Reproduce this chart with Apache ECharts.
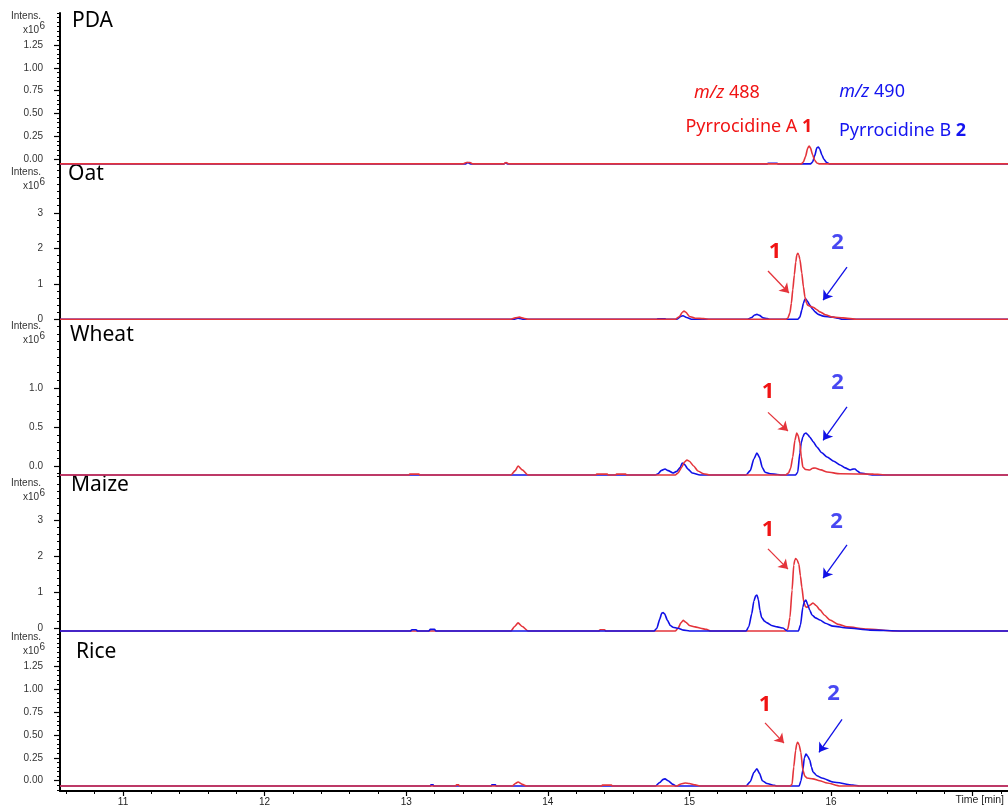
<!DOCTYPE html>
<html>
<head>
<meta charset="utf-8">
<script src="https://cdn.jsdelivr.net/npm/echarts@6/dist/echarts.min.js"></script>
<style>
  html, body { margin: 0; padding: 0; background: #fff; }
  #main { width: 1008px; height: 807px; }
</style>
</head>
<body>
<div id="main"></div>
<script>
// time axis (min)
const timeRange = [10.555, 17.25];
const timeTicks = [11, 12, 13, 14, 15, 16, 17];

// y ranges (x10^6) and tick labels for each panel
const pdaRange = [-0.062, 1.60];
const oatRange = [-0.048, 4.375];
const wheatRange = [-0.142, 1.879];
const maizeRange = [-0.102, 4.219];
const riceRange = [-0.112, 1.632];

const pdaTicks = [0, 0.25, 0.5, 0.75, 1.0, 1.25];
const oatTicks = [0, 1, 2, 3];
const wheatTicks = [0, 0.5, 1.0];
const maizeTicks = [0, 1, 2, 3];
const riceTicks = [0, 0.25, 0.5, 0.75, 1.0, 1.25];

// traces: [time, intensity]
const pdaRed = [[10.555,-0.05],[13.40,-0.05],[13.425,-0.035],[13.45,-0.035],[13.47,-0.05],[13.69,-0.05],[13.705,-0.035],[13.725,-0.05],
  [15.79,-0.05],[15.805,-0.03],[15.82,0.03],[15.835,0.12],[15.845,0.145],[15.855,0.125],[15.87,0.05],[15.885,-0.01],
  [15.90,-0.04],[15.92,-0.05],[17.25,-0.05]];
const pdaBlue = [[10.555,-0.05],[13.42,-0.05],[13.435,-0.035],[13.455,-0.05],[13.69,-0.05],[13.70,-0.04],[13.72,-0.05],
  [15.55,-0.05],[15.555,-0.043],[15.62,-0.043],[15.625,-0.05],[15.855,-0.05],[15.87,-0.03],[15.885,0.04],[15.90,0.125],
  [15.91,0.135],[15.92,0.115],[15.935,0.05],[15.95,0.0],[15.97,-0.035],[15.99,-0.05],[17.25,-0.05]];

const oatRed = [[10.555,0],[13.74,0],[13.77,0.04],[13.80,0.06],[13.83,0.03],[13.86,0],[14.90,0],[14.93,0.08],[14.95,0.2],
  [14.962,0.23],[14.975,0.2],[15.0,0.08],[15.04,0.03],[15.10,0.02],[15.145,0],[15.68,0],[15.695,0.03],[15.71,0.18],
  [15.72,0.45],[15.73,0.83],[15.741,1.25],[15.751,1.61],[15.758,1.80],[15.765,1.86],[15.772,1.82],[15.78,1.70],[15.794,1.30],
  [15.805,0.92],[15.816,0.63],[15.826,0.47],[15.835,0.40],[15.85,0.37],[15.873,0.34],[15.90,0.27],[15.922,0.21],[15.96,0.13],
  [16.014,0.06],[16.085,0.04],[16.184,0],[17.25,0]];
const oatBlue = [[10.555,0],[13.76,0],[13.79,0.03],[13.83,0],[14.77,0],[14.775,0.015],[14.83,0.015],[14.835,0],[14.91,0],
  [14.94,0.08],[14.955,0.1],[14.98,0.05],[15.02,0],[15.41,0],[15.44,0.05],[15.46,0.12],[15.477,0.14],[15.495,0.11],[15.52,0.04],
  [15.55,0.02],[15.569,0],[15.765,0],[15.78,0.06],[15.794,0.26],[15.805,0.45],[15.815,0.56],[15.823,0.57],[15.835,0.50],
  [15.85,0.40],[15.87,0.29],[15.887,0.21],[15.91,0.14],[15.944,0.09],[16.014,0.06],[16.05,0.03],[16.078,0],[17.25,0]];

const wheatRed = [[10.555,-0.116],[13.02,-0.116],[13.025,-0.105],[13.09,-0.105],[13.095,-0.116],[13.74,-0.116],[13.77,-0.06],
  [13.79,0.0],[13.82,-0.05],[13.86,-0.116],[14.34,-0.116],[14.345,-0.105],[14.42,-0.105],[14.425,-0.116],[14.48,-0.116],
  [14.485,-0.105],[14.55,-0.105],[14.555,-0.116],[14.90,-0.116],[14.92,-0.09],[14.945,-0.02],[14.965,0.05],[14.983,0.077],
  [15.0,0.06],[15.03,0.0],[15.06,-0.064],[15.10,-0.10],[15.145,-0.116],[15.68,-0.116],[15.70,-0.09],[15.715,-0.03],
  [15.73,0.116],[15.745,0.33],[15.758,0.425],[15.768,0.39],[15.78,0.296],[15.79,0.12],[15.801,-0.013],[15.82,-0.045],
  [15.85,-0.051],[15.87,-0.03],[15.887,-0.026],[15.93,-0.05],[15.972,-0.077],[16.064,-0.10],[16.30,-0.105],[16.395,-0.116],[17.25,-0.116]];
const wheatBlue = [[10.555,-0.116],[14.76,-0.116],[14.778,-0.10],[14.80,-0.06],[14.828,-0.039],[14.85,-0.06],[14.884,-0.09],
  [14.91,-0.07],[14.935,-0.02],[14.949,0.039],[14.965,0.02],[14.99,-0.04],[15.02,-0.09],[15.075,-0.116],[15.40,-0.116],
  [15.43,-0.06],[15.455,0.09],[15.477,0.167],[15.495,0.11],[15.515,-0.02],[15.534,-0.08],[15.57,-0.10],[15.62,-0.11],
  [15.65,-0.116],[15.75,-0.116],[15.765,-0.08],[15.78,0.167],[15.79,0.30],[15.801,0.373],[15.812,0.415],[15.823,0.425],
  [15.835,0.405],[15.85,0.373],[15.875,0.31],[15.90,0.245],[15.935,0.17],[15.972,0.116],[16.02,0.06],[16.064,0.013],
  [16.10,-0.025],[16.136,-0.051],[16.155,-0.04],[16.169,-0.039],[16.19,-0.07],[16.205,-0.09],[16.297,-0.116],[17.25,-0.116]];

const maizeRed = [[10.555,-0.075],[13.74,-0.075],[13.765,0.05],[13.79,0.15],[13.82,0.05],[13.86,-0.075],[14.36,-0.075],
  [14.37,-0.04],[14.40,-0.04],[14.41,-0.075],[14.90,-0.075],[14.92,0.0],[14.94,0.15],[14.956,0.22],[14.975,0.17],[15.0,0.08],
  [15.04,0.04],[15.08,0.0],[15.12,-0.03],[15.15,-0.075],[15.68,-0.075],[15.695,-0.02],[15.71,0.3],[15.725,1.06],[15.737,1.75],
  [15.745,1.90],[15.751,1.93],[15.76,1.90],[15.773,1.78],[15.784,1.45],[15.794,1.14],[15.808,0.72],[15.82,0.60],[15.83,0.58],
  [15.85,0.64],[15.873,0.70],[15.895,0.63],[15.922,0.51],[15.955,0.36],[15.993,0.23],[16.05,0.11],[16.113,0.04],[16.254,-0.02],
  [16.45,-0.075],[17.25,-0.075]];
const maizeBlue = [[10.555,-0.075],[13.03,-0.075],[13.04,-0.04],[13.07,-0.04],[13.08,-0.075],[13.16,-0.075],[13.17,-0.03],
  [13.20,-0.03],[13.21,-0.075],[14.75,-0.075],[14.77,0.0],[14.79,0.25],[14.805,0.42],[14.814,0.44],[14.825,0.40],[14.845,0.22],
  [14.865,0.08],[14.884,0.03],[14.92,0.0],[14.96,-0.05],[15.0,-0.075],[15.40,-0.075],[15.42,0.05],[15.44,0.4],[15.455,0.75],
  [15.468,0.9],[15.477,0.92],[15.487,0.8],[15.498,0.5],[15.51,0.3],[15.53,0.2],[15.548,0.15],[15.58,0.08],[15.62,0.04],
  [15.661,0.01],[15.69,-0.075],[15.77,-0.075],[15.785,0.1],[15.801,0.59],[15.812,0.74],[15.823,0.78],[15.835,0.66],[15.85,0.50],
  [15.866,0.37],[15.89,0.29],[15.922,0.23],[15.96,0.14],[16.014,0.06],[16.113,0.01],[16.275,-0.05],[16.50,-0.075],[17.25,-0.075]];

const riceRed = [[10.555,-0.058],[13.35,-0.058],[13.355,-0.045],[13.37,-0.045],[13.375,-0.058],[13.75,-0.058],[13.77,-0.03],
  [13.79,-0.014],[13.82,-0.04],[13.85,-0.058],[14.38,-0.058],[14.385,-0.048],[14.45,-0.048],[14.455,-0.058],[14.91,-0.058],
  [14.94,-0.035],[14.97,-0.025],[15.0,-0.03],[15.04,-0.045],[15.08,-0.058],[15.71,-0.058],[15.725,-0.04],[15.737,0.15],
  [15.75,0.33],[15.758,0.40],[15.765,0.42],[15.775,0.39],[15.787,0.31],[15.801,0.117],[15.815,0.05],[15.83,0.03],[15.873,0.02],
  [15.92,0.0],[15.972,-0.025],[16.064,-0.058],[17.25,-0.058]];
const riceBlue = [[10.555,-0.058],[13.17,-0.058],[13.175,-0.045],[13.19,-0.045],[13.195,-0.058],[13.6,-0.058],[13.605,-0.045],
  [13.63,-0.045],[13.635,-0.058],[14.76,-0.058],[14.79,-0.02],[14.814,0.015],[14.828,0.02],[14.85,0.0],[14.884,-0.04],
  [14.905,-0.058],[15.40,-0.058],[15.43,-0.01],[15.455,0.09],[15.477,0.13],[15.495,0.08],[15.515,0.0],[15.548,-0.03],
  [15.60,-0.05],[15.62,-0.058],[15.775,-0.058],[15.788,0.0],[15.801,0.117],[15.812,0.25],[15.823,0.29],[15.835,0.27],
  [15.85,0.226],[15.862,0.15],[15.873,0.095],[15.90,0.055],[15.936,0.03],[16.014,-0.014],[16.155,-0.047],[16.2,-0.058],[17.25,-0.058]];

// arrows [from, to] and number label positions
const oatArrowRed = [[15.555,1.36],[15.703,0.74]];
const oatArrowBlue = [[16.113,1.47],[15.944,0.54]];
const oatNum1 = [15.605,1.90];
const oatNum2 = [16.047,2.15];
const wheatArrowRed = [[15.555,0.69],[15.696,0.45]];
const wheatArrowBlue = [[16.113,0.76],[15.944,0.33]];
const wheatNum1 = [15.555,0.95];
const wheatNum2 = [16.047,1.07];
const maizeArrowRed = [[15.555,2.20],[15.696,1.64]];
const maizeArrowBlue = [[16.113,2.31],[15.944,1.39]];
const maizeNum1 = [15.555,2.72];
const maizeNum2 = [16.04,2.94];
const riceArrowRed = [[15.534,0.63],[15.668,0.41]];
const riceArrowBlue = [[16.078,0.67],[15.915,0.31]];
const riceNum1 = [15.534,0.83];
const riceNum2 = [16.018,0.95];

// PDA panel legend texts
const mz488Pos = [15.265,0.725];
const pyrAPos = [15.42,0.35];
const mz490Pos = [16.29,0.736];
const pyrBPos = [16.505,0.31];

const RED = '#e4343b';
const BLUE = '#1010e6';
const SANS = 'Noto Sans';
const ARIAL = 'Liberation Sans';

const panels = [
  {name: 'PDA', red: pdaRed, blue: pdaBlue, range: pdaRange, ticks: pdaTicks, minor: 0.05, dec: 2},
  {name: 'Oat', red: oatRed, blue: oatBlue, range: oatRange, ticks: oatTicks, minor: 0.2, dec: 0,
    arrows: [oatArrowRed, oatArrowBlue], nums: [oatNum1, oatNum2]},
  {name: 'Wheat', red: wheatRed, blue: wheatBlue, range: wheatRange, ticks: wheatTicks, minor: 0.1, dec: 1,
    arrows: [wheatArrowRed, wheatArrowBlue], nums: [wheatNum1, wheatNum2]},
  {name: 'Maize', red: maizeRed, blue: maizeBlue, range: maizeRange, ticks: maizeTicks, minor: 0.2, dec: 0, blueOnTop: true,
    arrows: [maizeArrowRed, maizeArrowBlue], nums: [maizeNum1, maizeNum2]},
  {name: 'Rice', red: riceRed, blue: riceBlue, range: riceRange, ticks: riceTicks, minor: 0.05, dec: 2,
    arrows: [riceArrowRed, riceArrowBlue], nums: [riceNum1, riceNum2]}
];

// layout
const boxes = [[13, 152], [164, 157], [320, 157], [476, 156], [631, 160]];
const intensY = [17, 173, 327, 484, 638];
const titleX = [72, 68, 70, 71, 76];
const titleY = [25, 178, 339, 489, 656];

function minorValues(range, step) {
    let out = [];
    for (let v = Math.ceil(range[0] / step) * step; v <= range[1] + 1e-9; v += step)
        out.push(Math.round(v * 1000) / 1000);
    return out;
}

function numPoint(pos, text, color) {
    return {
        coord: pos, symbol: 'circle', symbolSize: 1, itemStyle: {color: 'rgba(0,0,0,0)'},
        label: {show: true, position: 'inside', formatter: text, color: color,
            fontFamily: SANS, fontSize: 22, fontWeight: 'bold'}
    };
}

function richPoint(pos, text, color) {
    return {
        coord: pos, symbol: 'circle', symbolSize: 1, itemStyle: {color: 'rgba(0,0,0,0)'},
        label: {
            show: true, position: 'inside', formatter: text, color: color, fontFamily: SANS, fontSize: 18,
            rich: {
                i: {fontStyle: 'italic', color: color, fontFamily: SANS, fontSize: 18},
                n: {color: color, fontFamily: SANS, fontSize: 18},
                b: {fontWeight: 'bold', color: color, fontFamily: SANS, fontSize: 18}
            }
        }
    };
}

function gen_line(color, data, i, arrow, num, numColor) {
    let s = {
        type: 'line', xAxisIndex: i, yAxisIndex: i, data: data,
        showSymbol: false, symbol: 'none', silent: true, animation: false,
        smooth: 0.2, smoothMonotone: 'x',
        lineStyle: {color: color, width: 1.6}, itemStyle: {color: color}
    };
    if (arrow) {
        s.markLine = {
            silent: true, animation: false, symbol: ['none', 'arrow'], symbolSize: 9,
            label: {show: false}, lineStyle: {color: color, width: 1.3, type: 'solid'},
            data: [[{coord: arrow[0]}, {coord: arrow[1]}]]
        };
    }
    if (num) s.markPoint = {silent: true, animation: false, data: [numPoint(num[0], num[1], numColor)]};
    return s;
}

let grid = [], xAxis = [], yAxis = [], series = [], graphic = [];

panels.forEach((p, i) => {
    grid.push({left: 60, right: 0, top: boxes[i][0], height: boxes[i][1]});
    let last = i === panels.length - 1;
    xAxis.push({
        type: 'value', gridIndex: i, min: timeRange[0], max: timeRange[1], position: 'bottom',
        show: last,
        axisLine: {show: last, onZero: false, lineStyle: {color: '#000', width: 2}},
        axisTick: {show: last, customValues: timeTicks, length: 5, lineStyle: {color: '#000', width: 1.2}},
        axisLabel: {show: last, customValues: timeTicks, formatter: v => (v === 17 ? '' : String(v)),
            fontFamily: ARIAL, fontSize: 10, color: '#222', margin: 6},
        splitLine: {show: false}
    });
    yAxis.push({
        type: 'value', gridIndex: i, min: p.range[0], max: p.range[1], position: 'left',
        axisLine: {show: true, onZero: false, lineStyle: {color: '#000', width: 2}},
        axisTick: {show: true, customValues: p.ticks, length: 6, lineStyle: {color: '#000', width: 1.2}},
        axisLabel: {customValues: p.ticks, formatter: v => v.toFixed(p.dec),
            fontFamily: ARIAL, fontSize: 10, color: '#333', margin: 17},
        splitLine: {show: false}
    });

    let red = gen_line(RED, p.red, i, p.arrows && p.arrows[0], p.nums && [p.nums[0], '1'], '#f01414');
    let blue = gen_line(BLUE, p.blue, i, p.arrows && p.arrows[1], p.nums && [p.nums[1], '2'], '#4848f2');
    if (i === 0) {
        red.markPoint = {silent: true, animation: false, data: [
            richPoint(mz488Pos, '{i|m/z} 488', '#f01414'),
            richPoint(pyrAPos, '{n|Pyrrocidine A }{b|1}', '#f01414')
        ]};
        blue.markPoint = {silent: true, animation: false, data: [
            richPoint(mz490Pos, '{i|m/z} 490', '#1414f0'),
            richPoint(pyrBPos, '{n|Pyrrocidine B }{b|2}', '#1414f0')
        ]};
    }
    if (p.blueOnTop) series.push(red, blue); else series.push(blue, red);

    graphic.push({type: 'text', left: titleX[i], top: titleY[i] - 14,
        style: {text: p.name, font: '21px "Noto Sans"', fill: '#000'}});
    graphic.push({type: 'text', right: 1008 - 41, top: intensY[i] - 6,
        style: {text: 'Intens.', font: '10px "Liberation Sans"', fill: '#333'}});
    graphic.push({type: 'text', right: 1008 - 39, top: intensY[i] + 8,
        style: {text: 'x10', font: '10px "Liberation Sans"', fill: '#333'}});
    graphic.push({type: 'text', left: 39.5, top: intensY[i] + 4,
        style: {text: '6', font: '10px "Liberation Sans"', fill: '#333'}});
});

// minor tick axes
panels.forEach((p, i) => {
    yAxis.push({
        type: 'value', gridIndex: i, min: p.range[0], max: p.range[1], position: 'left',
        axisLine: {show: false}, axisLabel: {show: false}, splitLine: {show: false},
        axisTick: {show: true, customValues: minorValues(p.range, p.minor), length: 3, lineStyle: {color: '#000', width: 1}}
    });
});
xAxis.push({
    type: 'value', gridIndex: 4, min: timeRange[0], max: timeRange[1], position: 'bottom',
    axisLine: {show: false, onZero: false}, axisLabel: {show: false}, splitLine: {show: false},
    axisTick: {show: true, customValues: minorValues(timeRange, 0.2), length: 3, lineStyle: {color: '#000', width: 1}}
});

graphic.push({type: 'text', right: 4, top: 795,
    style: {text: 'Time [min]', font: '10.5px "Liberation Sans"', fill: '#222'}});

let chart = echarts.init(document.getElementById('main'), null, {renderer: 'canvas'});
chart.setOption({
    animation: false,
    backgroundColor: '#fff',
    grid: grid,
    xAxis: xAxis,
    yAxis: yAxis,
    series: series,
    graphic: graphic
});
</script>
</body>
</html>
